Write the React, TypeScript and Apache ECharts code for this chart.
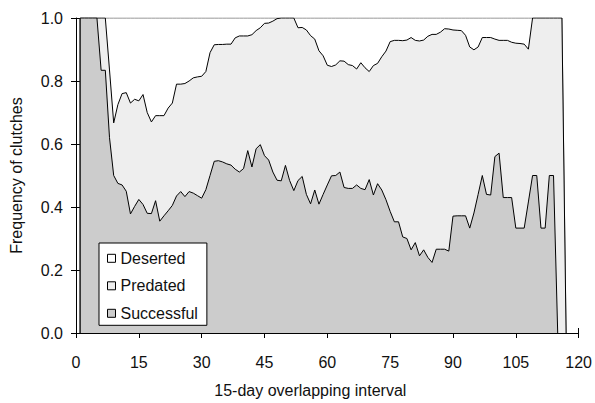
import React, { useEffect, useRef } from "react";
import * as echarts from "echarts";

// First interval plotted (day 1); arrays below run from this day onward, one value per day.
const firstDay = 1;

// Share of successful clutches
const successful: number[] = [
  1, 1, 1, 1, 1, 0.834, 0.834, 0.62, 0.5,
  0.475, 0.47, 0.45, 0.378, 0.402, 0.424, 0.408, 0.38, 0.379, 0.42,
  0.355, 0.372, 0.388, 0.405, 0.435, 0.449, 0.433, 0.449, 0.444, 0.436,
  0.428, 0.455, 0.5, 0.545, 0.547, 0.543, 0.537, 0.533, 0.52, 0.511,
  0.522, 0.579, 0.527, 0.585, 0.598, 0.563, 0.549, 0.511, 0.485, 0.483,
  0.532, 0.484, 0.452, 0.484, 0.497, 0.44, 0.41, 0.454, 0.409, 0.44,
  0.47, 0.499, 0.5, 0.511, 0.462, 0.459, 0.459, 0.47, 0.459, 0.455,
  0.487, 0.438, 0.474, 0.454, 0.423, 0.386, 0.353, 0.353, 0.305, 0.3,
  0.264, 0.287, 0.245, 0.264, 0.24, 0.224, 0.266, 0.266, 0.266, 0.26,
  0.371, 0.372, 0.372, 0.372, 0.333, 0.381, 0.44, 0.5, 0.44, 0.438,
  0.56, 0.571, 0.43, 0.43, 0.43, 0.333, 0.333, 0.333, 0.416, 0.5,
  0.5, 0.333, 0.333, 0.5, 0.5, 0,
];

// Successful + predated (upper edge of the predated band)
const successfulOrPredated: number[] = [
  1, 1, 1, 1, 1, 1, 1, 0.835, 0.667,
  0.725, 0.76, 0.763, 0.73, 0.742, 0.737, 0.757, 0.7, 0.67, 0.69,
  0.69, 0.69, 0.714, 0.73, 0.79, 0.79, 0.792, 0.8, 0.81, 0.813,
  0.815, 0.83, 0.89, 0.915, 0.916, 0.916, 0.917, 0.917, 0.937, 0.943,
  0.943, 0.943, 0.947, 0.96, 0.969, 0.983, 0.984, 0.99, 0.998, 1,
  1, 1, 1, 0.969, 0.97, 0.962, 0.944, 0.933, 0.896, 0.88,
  0.85, 0.846, 0.851, 0.864, 0.863, 0.852, 0.849, 0.838, 0.858, 0.842,
  0.83, 0.849, 0.856, 0.877, 0.895, 0.925, 0.929, 0.929, 0.928, 0.93,
  0.938, 0.929, 0.927, 0.93, 0.942, 0.948, 0.948, 0.955, 0.966, 0.965,
  0.962, 0.961, 0.96, 0.945, 0.908, 0.899, 0.908, 0.938, 0.938, 0.938,
  0.933, 0.929, 0.929, 0.929, 0.923, 0.92, 0.919, 0.917, 0.901, 1,
  1, 1, 1, 1, 1, 1, 1, 0,
];

// Successful + predated + deserted (all clutches)
const allOutcomes: number[] = [
  1, 1, 1, 1, 1, 1, 1, 1, 1,
  1, 1, 1, 1, 1, 1, 1, 1, 1, 1,
  1, 1, 1, 1, 1, 1, 1, 1, 1, 1,
  1, 1, 1, 1, 1, 1, 1, 1, 1, 1,
  1, 1, 1, 1, 1, 1, 1, 1, 1, 1,
  1, 1, 1, 1, 1, 1, 1, 1, 1, 1,
  1, 1, 1, 1, 1, 1, 1, 1, 1, 1,
  1, 1, 1, 1, 1, 1, 1, 1, 1, 1,
  1, 1, 1, 1, 1, 1, 1, 1, 1, 1,
  1, 1, 1, 1, 1, 1, 1, 1, 1, 1,
  1, 1, 1, 1, 1, 1, 1, 1, 1, 1,
  1, 1, 1, 1, 1, 1, 1, 0,
];

const legendNames = ["Deserted", "Predated", "Successful"];
const xAxisTitle = "15-day overlapping interval";
const yAxisTitle = "Frequency of clutches";

const FONT = "'Liberation Sans', Arial, Helvetica, sans-serif";
const TEXT = "#111";

// Area starts with a closed vertical edge at the first interval.
const toPairs = (arr: number[]) => [[firstDay, 0], ...arr.map((v, i) => [firstDay + i, v])];

export default function App() {
  const ref = useRef<HTMLDivElement>(null);

  useEffect(() => {
    if (!ref.current) return;
    const chart = echarts.init(ref.current, undefined, { renderer: "svg" });

    const lineBase = {
      type: "line",
      showSymbol: false,
      symbol: "none",
      xAxisIndex: 0,
      yAxisIndex: 0,
    };

    chart.setOption({
      animation: false,
      grid: { left: 72, right: 16, top: 18, bottom: 64.5 },
      legend: {
        orient: "vertical",
        left: 99,
        top: 243,
        itemWidth: 8,
        itemHeight: 8,
        itemGap: 11.5,
        padding: [7.3, 9, 4, 8],
        backgroundColor: "#fff",
        borderColor: "#000",
        borderWidth: 1,
        borderRadius: 0,
        selectedMode: false,
        textStyle: { fontSize: 16, color: TEXT, fontFamily: FONT, lineHeight: 16 },
        data: [
          { name: legendNames[0], icon: "rect", itemStyle: { color: "#fff", borderColor: "#000", borderWidth: 1 } },
          { name: legendNames[1], icon: "rect", itemStyle: { color: "#eeeeee", borderColor: "#000", borderWidth: 1 } },
          { name: legendNames[2], icon: "rect", itemStyle: { color: "#cccccc", borderColor: "#000", borderWidth: 1 } },
        ],
      },
      xAxis: [
        {
          type: "value",
          min: 0,
          max: 120,
          interval: 15,
          name: xAxisTitle,
          nameLocation: "middle",
          nameGap: 49,
          nameTextStyle: { fontSize: 16, color: TEXT, fontFamily: FONT, padding: [0, 34, 0, 0] },
          axisLine: { show: true, onZero: false, lineStyle: { color: "#000", width: 1 } },
          axisTick: { show: true, length: 5, lineStyle: { color: "#000", width: 1 } },
          axisLabel: { margin: 21, fontSize: 16, color: TEXT, fontFamily: FONT },
          splitLine: { show: false },
        },
        {
          type: "value",
          min: 0,
          max: 120,
          interval: 15,
          position: "bottom",
          axisLine: { show: false },
          axisTick: { show: true, inside: true, length: 5, lineStyle: { color: "#000", width: 1 } },
          axisLabel: { show: false },
          splitLine: { show: false },
        },
      ],
      yAxis: [
        {
          type: "value",
          min: 0,
          max: 1,
          interval: 0.2,
          name: yAxisTitle,
          nameLocation: "middle",
          nameGap: 52,
          nameTextStyle: { fontSize: 16, color: TEXT, fontFamily: FONT },
          axisLine: { show: true, onZero: false, lineStyle: { color: "#000", width: 1 } },
          axisTick: { show: true, length: 5, lineStyle: { color: "#000", width: 1 } },
          axisLabel: {
            margin: 13,
            fontSize: 16,
            color: TEXT,
            fontFamily: FONT,
            formatter: (v: number) => v.toFixed(1),
          },
          splitLine: { show: false },
        },
        {
          type: "value",
          min: 0,
          max: 1,
          interval: 0.2,
          position: "left",
          axisLine: { show: false },
          axisTick: { show: true, inside: true, length: 5, lineStyle: { color: "#000", width: 1 } },
          axisLabel: { show: false },
          splitLine: { show: false },
        },
      ],
      series: [
        {
          ...lineBase,
          name: legendNames[0],
          data: toPairs(allOutcomes),
          z: 1,
          itemStyle: { color: "#fff" },
          lineStyle: { color: "#777", width: 1 },
          areaStyle: { color: "#fff", opacity: 1 },
        },
        {
          ...lineBase,
          name: legendNames[1],
          data: toPairs(successfulOrPredated),
          z: 2,
          itemStyle: { color: "#eeeeee" },
          lineStyle: { color: "#000", width: 1 },
          areaStyle: { color: "#eeeeee", opacity: 1 },
        },
        {
          ...lineBase,
          name: legendNames[2],
          data: toPairs(successful),
          z: 3,
          itemStyle: { color: "#cccccc" },
          lineStyle: { color: "#000", width: 1 },
          areaStyle: { color: "#cccccc", opacity: 1 },
        },
      ],
    });

    return () => chart.dispose();
  }, []);

  return (
    <div
      ref={ref}
      style={{ position: "fixed", left: 0, top: 0, width: 595, height: 403, background: "#fff" }}
    />
  );
}
